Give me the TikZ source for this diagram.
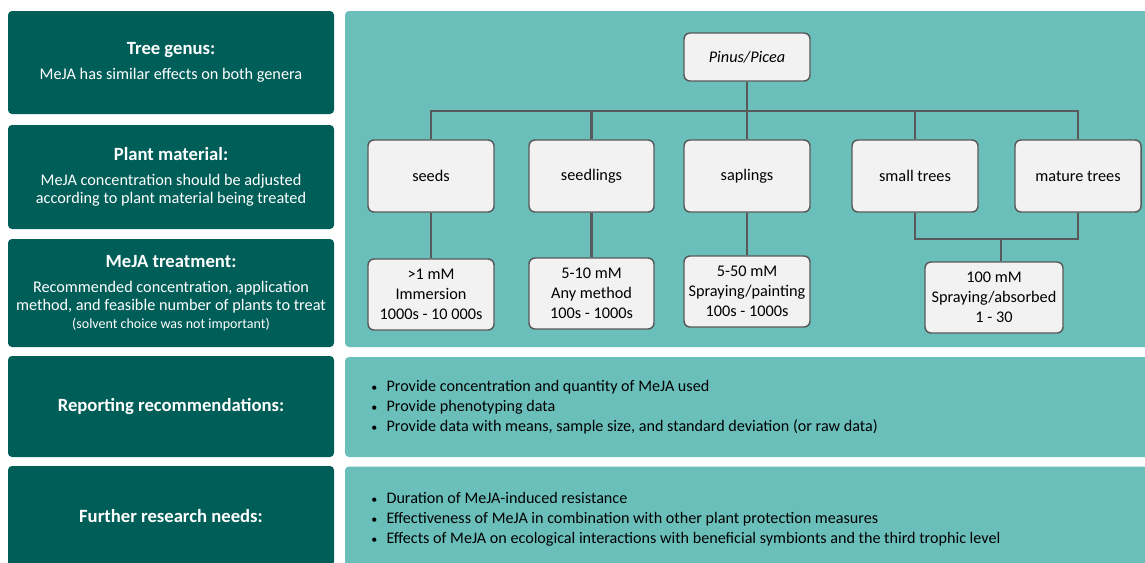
\documentclass[tikz,border=0pt]{standalone}
\usepackage{fontspec}
\setmainfont{Carlito}
\definecolor{darkteal}{HTML}{005E59}
\definecolor{lightteal}{HTML}{6ABFBB}
\definecolor{boxfill}{HTML}{F2F2F2}
\definecolor{edgegray}{HTML}{595959}
\newcommand{\stitle}[1]{{\fontsize{14}{16}\selectfont\bfseries #1}}
\newcommand{\bul}{{\fontsize{9}{9}\selectfont\textbullet}\hspace{7pt}}
\begin{document}
\begin{tikzpicture}[x=0.75pt,y=-0.75pt,
  sidebox/.style={fill=darkteal, rounded corners=3pt, text=white, align=center,
    minimum width=244.5pt, inner sep=0pt, font=\fontsize{12.2}{13.7}\selectfont},
  panel/.style={fill=lightteal, rounded corners=3pt},
  treebox/.style={draw=edgegray, fill=boxfill, line width=1.1pt, rounded corners=4.5pt,
    align=center, inner sep=0pt, minimum width=94.5pt, font=\fontsize{12.2}{15}\selectfont},
  conn/.style={draw=edgegray, line width=1.6pt},
  bullets/.style={align=left, anchor=west, inner sep=0pt, font=\fontsize{12.1}{15}\selectfont}
]
\useasboundingbox (0,0) rectangle (1145,562);
\fill[white] (0,0) rectangle (1145,562);

% left side boxes
\node[sidebox, minimum height=77.25pt] (tg) at (171,62.5)
  {\stitle{Tree genus:}\\[5pt]MeJA has similar effects on both genera};
\node[sidebox, minimum height=78pt] (pm) at (171,177)
  {\stitle{Plant material:}\\[5pt]MeJA concentration should be adjusted\\according to plant material being treated};
\node[sidebox, minimum height=81pt] (mt) at (171,293)
  {\stitle{MeJA treatment:}\\[5pt]Recommended concentration, application\\method, and feasible number of plants to treat\\{\fontsize{10.5}{12}\selectfont (solvent choice was not important)}};
\node[sidebox, minimum height=75.75pt] (rr) at (171,406.5)
  {\stitle{Reporting recommendations:}};
\node[sidebox, minimum height=75pt] (fr) at (171,516)
  {\stitle{Further research needs:}};

% right panels
\node[panel, minimum width=603.75pt, minimum height=252pt, inner sep=0pt] (p1) at (747.5,179) {};
\node[panel, minimum width=603.75pt, minimum height=75pt, inner sep=0pt] (p2) at (747.5,407) {};
\node[panel, minimum width=603.75pt, minimum height=75pt, inner sep=0pt] (p3) at (747.5,516.5) {};

% tree
\node[treebox, minimum height=36pt] (pinus) at (747,57) {\itshape Pinus/Picea};
\node[treebox, minimum height=54pt] (seeds) at (431,176) {seeds};
\node[treebox, minimum height=54pt, minimum width=93.75pt] (seedlings) at (591.5,176) {seedlings};
\node[treebox, minimum height=54pt] (saplings) at (747,176) {saplings};
\node[treebox, minimum height=54pt] (small) at (915,176) {small trees};
\node[treebox, minimum height=54pt] (mature) at (1078,176) {mature trees};

\node[treebox, minimum height=53.25pt] (seedsub) at (431,294.5) {>1 mM\\Immersion\\1000s - 10 000s};
\node[treebox, minimum height=53.25pt, minimum width=93.75pt] (seedlingsub) at (591.5,293.5) {5-10 mM\\Any method\\100s - 1000s};
\node[treebox, minimum height=53.25pt] (saplingsub) at (747,291.5) {5-50 mM\\Spraying/painting\\100s - 1000s};
\node[treebox, minimum height=53.25pt, minimum width=103.5pt] (treesub) at (994,297.5) {100 mM\\Spraying/absorbed\\1 - 30};

\coordinate (bus) at (747,111);
\coordinate (join) at (1001,239);
\draw[conn] (pinus.south) -- (saplings.north);
\draw[conn] (seeds.north) |- (bus) -| (mature.north);
\draw[conn] (seedlings.north) -- (seedlings.north |- bus);
\draw[conn] (small.north) -- (small.north |- bus);
\draw[conn] (seeds.south) -- (seedsub.north);
\draw[conn] (seedlings.south) -- (seedlingsub.north);
\draw[conn] (saplings.south) -- (saplingsub.north);
\draw[conn] (small.south) |- (join) -| (mature.south);
\draw[conn] (join) -- (join |- treesub.north);

% bullets
\node[bullets] (b1) at (371,407.5) {\bul Provide concentration and quantity of MeJA used\\
\bul Provide phenotyping data\\
\bul Provide data with means, sample size, and standard deviation (or raw data)};
\node[bullets] (b2) at (371,519.5) {\bul Duration of MeJA-induced resistance\\
\bul Effectiveness of MeJA in combination with other plant protection measures\\
\bul Effects of MeJA on ecological interactions with beneficial symbionts and the third trophic level};
\end{tikzpicture}
\end{document}
